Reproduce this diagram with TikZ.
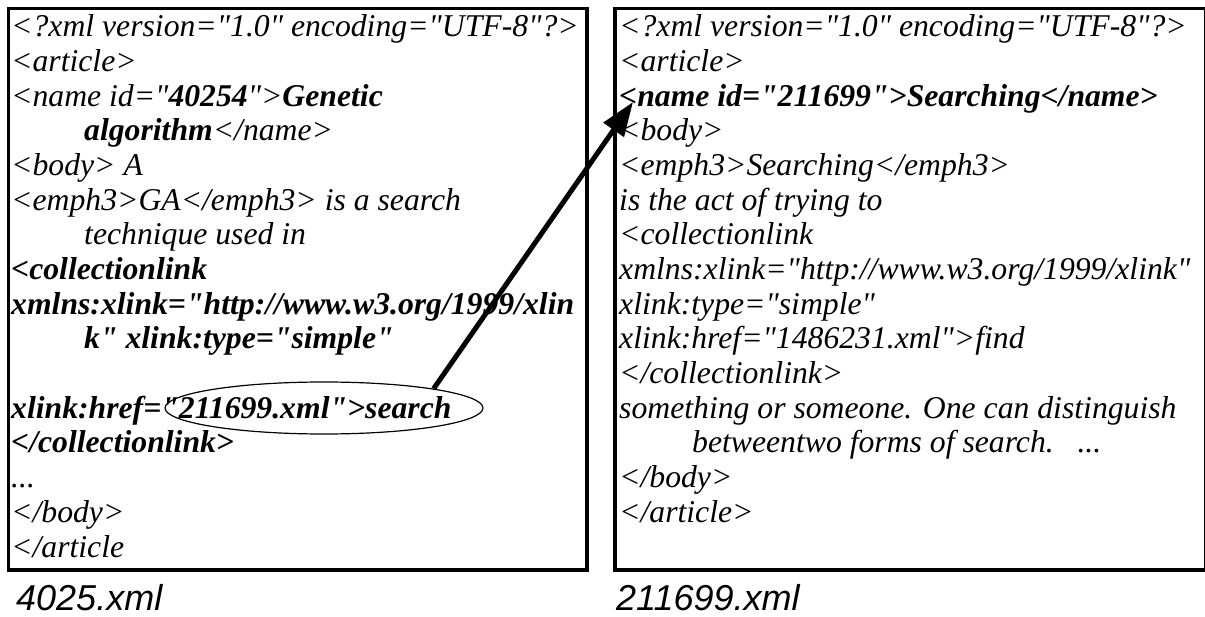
\documentclass[tikz,border=0pt]{standalone}
\usepackage{fontspec}
\setmainfont{Liberation Serif}[Ligatures=TeXOff]
\newfontfamily\labfont{Liberation Sans}
\usetikzlibrary{arrows.meta,shapes.geometric}
\tikzset{
  ln/.style={anchor=base west, inner sep=0pt, font=\fontsize{31.7}{34.7}\selectfont\itshape},
  frame/.style={draw=black, line width=3.5pt},
  lab/.style={anchor=base west, inner sep=0pt, font=\labfont\fontsize{36}{40}\selectfont\itshape},
  linkarrow/.style={line width=5pt, -{Triangle[length=34pt,width=24pt]}},
  hilite/.style={draw, ellipse, line width=1.2pt, minimum width=318pt, minimum height=52pt, inner sep=0pt},
}
\newcommand{\ind}{\hspace*{73pt}}
\begin{document}
\begin{tikzpicture}[x=1pt,y=-1pt]
\useasboundingbox (0,0) rectangle (1205,617);
\fill[white] (0,0) rectangle (1205,617);
% frames
\draw[frame] (8.5,8.5) rectangle (587,570);
\draw[frame] (615,8.5) rectangle (1206,570);
% left document
\node[ln] (L1) at (11,37) {<?xml version="1.0" encoding="UTF-8"?>};
\node[ln] (L2) at (11,71.67) {<article>};
\node[ln] (L3) at (11,106.33) {<name id="\textbf{40254}">\textbf{Genetic}};
\node[ln] (L4) at (11,141) {\ind\textbf{algorithm}</name>};
\node[ln] (L5) at (11,175.67) {<body> A};
\node[ln] (L6) at (11,210.33) {<emph3>GA</emph3> is a search};
\node[ln] (L7) at (11,245) {\ind technique used in};
\node[ln] (L8) at (11,279.67) {\textbf{<collectionlink}};
\node[ln] (L9) at (11,314.33) {\textbf{xmlns:xlink="http://www.w3.org/1999/xlin}};
\node[ln] (L10) at (11,349) {\ind\textbf{k" xlink:type="simple"}};
\node[ln] (L12) at (11,418.33) {\textbf{xlink:href="211699.xml">search}};
\node[ln] (L13) at (11,453) {\textbf{</collectionlink>}};
\node[ln] (L14) at (11,487.67) {...};
\node[ln] (L15) at (11,522.33) {</body>};
\node[ln] (L16) at (11,557) {</article};
% right document
\node[ln] (R1) at (619,37) {<?xml version="1.0" encoding="UTF-8"?>};
\node[ln] (R2) at (619,71.67) {<article>};
\node[ln] (R3) at (619,106.33) {\textbf{<name id="211699">Searching</name>}};
\node[ln] (R4) at (619,141) {<body>};
\node[ln] (R5) at (619,175.67) {<emph3>Searching</emph3>};
\node[ln] (R6) at (619,210.33) {is the act of trying to};
\node[ln] (R7) at (619,245) {<collectionlink};
\node[ln] (R8) at (619,279.67) {xmlns:xlink="http://www.w3.org/1999/xlink"};
\node[ln] (R9) at (619,314.33) {xlink:type="simple"};
\node[ln] (R10) at (619,349) {xlink:href="1486231.xml">find};
\node[ln] (R11) at (619,383.67) {</collectionlink>};
\node[ln] (R12) at (619,418.33) {something or someone. One can distinguish};
\node[ln] (R13) at (619,453) {\ind betweentwo forms of search.~~~...};
\node[ln] (R14) at (619,487.67) {</body>};
\node[ln] (R15) at (619,522.33) {</article>};
% labels
\node[lab] (lab1) at (16,610) {4025.xml};
\node[lab] (lab2) at (616,610) {211699.xml};
% highlight and link
\node[hilite] (hl) at (324,408) {};
\coordinate (tip) at (633,102);
\draw[linkarrow] (hl.10) -- (tip);
\end{tikzpicture}
\end{document}
